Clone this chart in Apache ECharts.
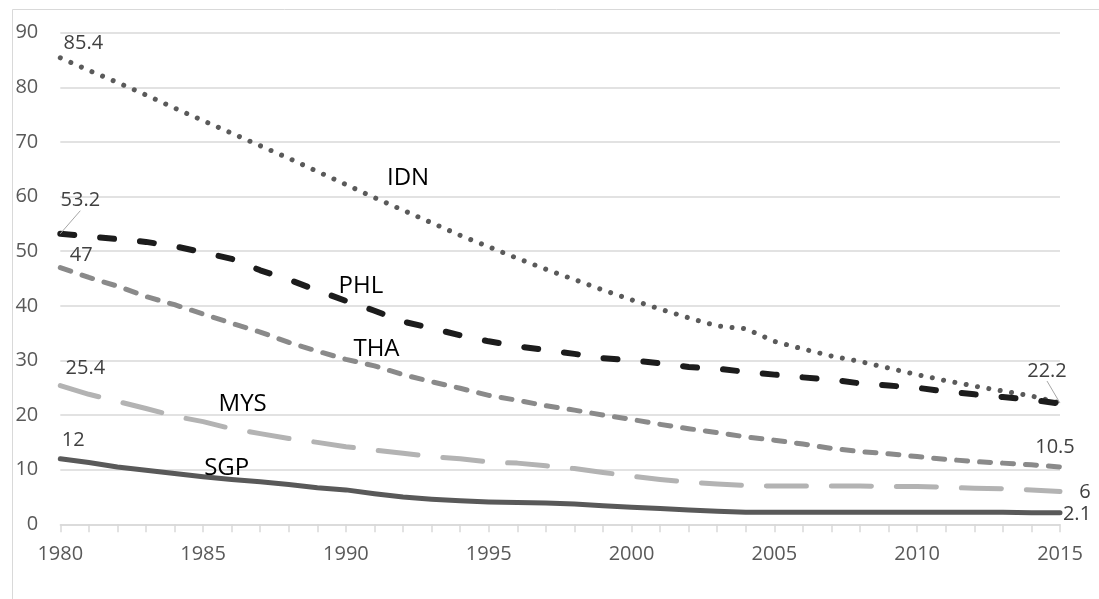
<!DOCTYPE html>
<html><head><meta charset="utf-8">
<script src="https://cdn.jsdelivr.net/npm/echarts@6/dist/echarts.min.js"></script>
<style>html,body{margin:0;padding:0;background:#fff}#c{width:1099px;height:599px}</style>
</head><body><div id="c"></div>
<script>
const years = ['1980','1981','1982','1983','1984','1985','1986','1987','1988','1989',
  '1990','1991','1992','1993','1994','1995','1996','1997','1998','1999',
  '2000','2001','2002','2003','2004','2005','2006','2007','2008','2009',
  '2010','2011','2012','2013','2014','2015'];
const yTicks = {min: 0, max: 90, interval: 10};
const IDN = [85.4,83.1,80.9,78.6,76.2,73.9,71.6,69.3,67.0,64.6,
  62.2,59.8,57.5,55.2,52.9,50.8,48.7,46.7,44.8,42.9,
  41.1,39.4,37.8,36.3,35.8,33.5,32.1,30.8,29.8,28.6,
  27.4,26.3,25.3,24.4,23.5,22.2];
const PHL = [53.2,52.7,52.2,51.7,50.9,49.8,48.6,46.5,44.8,42.8,
  40.9,39.1,37.1,35.9,34.6,33.5,32.6,31.9,31.2,30.4,
  30.0,29.5,28.8,28.5,27.9,27.4,26.9,26.5,25.8,25.4,
  25.0,24.3,23.8,23.3,22.8,22.1];
const THA = [47.0,45.2,43.6,41.7,40.2,38.5,36.8,35.2,33.3,31.7,
  30.2,29.0,27.4,26.1,24.9,23.6,22.7,21.7,20.9,20.0,
  19.2,18.3,17.5,16.8,16.0,15.4,14.7,13.9,13.3,12.9,
  12.4,11.9,11.5,11.2,10.9,10.5];
const MYS = [25.4,23.8,22.5,21.2,19.8,18.8,17.5,16.6,15.7,15.0,
  14.2,13.6,13.0,12.4,12.0,11.4,11.2,10.7,10.2,9.5,
  8.8,8.2,7.7,7.4,7.1,7.0,7.0,7.0,7.0,6.9,
  6.9,6.8,6.6,6.5,6.3,6.0];
const SGP = [12.0,11.3,10.5,9.9,9.3,8.7,8.2,7.8,7.3,6.7,
  6.3,5.6,5.0,4.6,4.3,4.1,4.0,3.9,3.7,3.4,
  3.1,2.9,2.6,2.4,2.2,2.2,2.2,2.2,2.2,2.2,
  2.2,2.2,2.2,2.2,2.1,2.1];

const FONT = "'Open Sans', 'Noto Sans', sans-serif";
const valStyle = {fontSize: 20, color: '#404040', fontFamily: FONT};
const nameStyle = {fontSize: 24, color: '#000000', fontFamily: FONT};

// label placements per series: index -> {kind, off, line}
const labelCfg = {
  IDN: {0: {kind:'v', off:[23,-15]}, 35: {kind:'v', off:[-13,-32], line:true}, 12: {kind:'n', off:[5,-32]}},
  PHL: {0: {kind:'v', off:[20,-33], line:true}, 10: {kind:'n', off:[15,-15]}},
  THA: {0: {kind:'v', off:[21,-12]}, 35: {kind:'v', off:[-5,-20]}, 11: {kind:'n', off:[2,-17]}},
  MYS: {0: {kind:'v', off:[25,-17]}, 35: {kind:'v', off:[25,1]}, 6: {kind:'n', off:[11,-25]}},
  SGP: {0: {kind:'v', off:[13,-18]}, 35: {kind:'v', off:[17,1]}, 6: {kind:'n', off:[-5,-11]}}
};

function buildData(name, values) {
  const cfg = labelCfg[name];
  return values.map((v, i) => {
    const c = cfg[i];
    if (!c) return {value: v};
    const st = c.kind === 'v' ? valStyle : nameStyle;
    return {
      value: v,
      label: Object.assign({show: true, position: 'inside',
        formatter: c.kind === 'v' ? '{c}' : '{a}'}, st),
      labelLine: {show: !!c.line, lineStyle: {color: '#a6a6a6', width: 1}}
    };
  });
}

function mkSeries(name, values, color, width, type) {
  const cfg = labelCfg[name];
  return {
    name: name, type: 'line', data: buildData(name, values),
    symbol: 'circle', symbolSize: 0.01, showSymbol: true, showAllSymbol: true,
    itemStyle: {color: color},
    lineStyle: {color: color, width: width, type: type, cap: 'round', join: 'round'},
    label: {show: false},
    emphasis: {disabled: true},
    labelLayout: function (p) {
      const c = cfg[p.dataIndex];
      if (c) return {dx: c.off[0], dy: c.off[1]};
      return {};
    },
    z: 3
  };
}

const chart = echarts.init(document.getElementById('c'));
chart.setOption({
  animation: false,
  backgroundColor: '#ffffff',
  graphic: [{type: 'rect', left: 10, top: 7, shape: {width: 1088, height: 700},
    style: {fill: 'none', stroke: '#d9d9d9', lineWidth: 1}, silent: true}],
  grid: {left: 60.3, right: 39, top: 32.7, bottom: 74.7},
  xAxis: {
    type: 'category', data: years, boundaryGap: false,
    axisLine: {lineStyle: {color: '#d9d9d9', width: 1.5}},
    axisTick: {show: true, interval: 0, length: 8, lineStyle: {color: '#d9d9d9', width: 1.5}},
    axisLabel: {interval: 4, margin: 20, fontSize: 20, color: '#595959', fontFamily: FONT},
    splitLine: {show: false}
  },
  yAxis: {
    type: 'value', min: yTicks.min, max: yTicks.max, interval: yTicks.interval,
    axisLine: {show: false}, axisTick: {show: false},
    axisLabel: {margin: 22, fontSize: 20, color: '#595959', fontFamily: FONT},
    splitLine: {lineStyle: {color: '#d9d9d9', width: 1.5}}
  },
  series: [
    mkSeries('IDN', IDN, '#5a5a5a', 5, [0.01, 11.5]),
    mkSeries('PHL', PHL, '#1c1c1c', 6, [14, 26]),
    mkSeries('THA', THA, '#8a8a8a', 5, [11, 12]),
    mkSeries('MYS', MYS, '#b3b3b3', 5, [40, 25]),
    mkSeries('SGP', SGP, '#595959', 5, 'solid')
  ]
});
</script></body></html>
